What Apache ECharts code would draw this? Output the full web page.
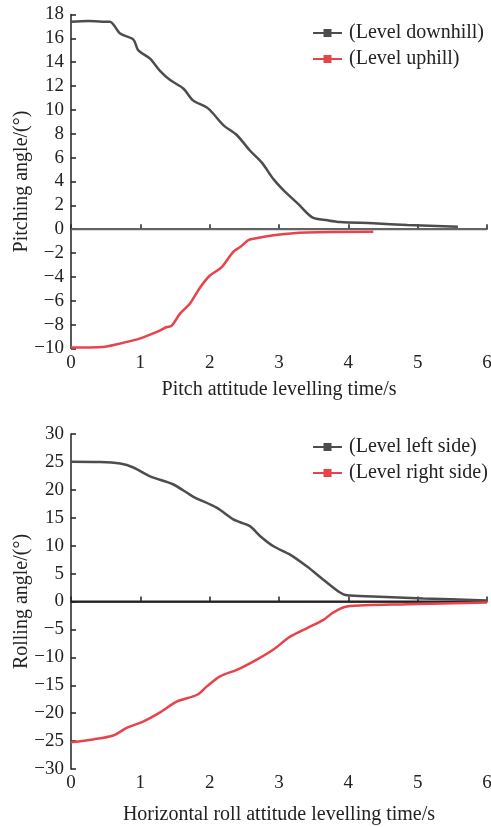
<!DOCTYPE html>
<html><head><meta charset="utf-8">
<script src="https://cdn.jsdelivr.net/npm/echarts@6/dist/echarts.min.js"></script>
<style>html,body{margin:0;padding:0;background:#fff}#c{width:491px;height:827px}</style>
</head><body><div id="c"></div>
<script>
// Top chart: pitch levelling
const pitchDownhill = [[0,17.4],[0.25,17.45],[0.45,17.4],[0.56,17.4],[0.71,16.4],[0.9,15.9],[0.97,15.0],[1.14,14.3],[1.28,13.3],[1.43,12.5],[1.62,11.8],[1.76,10.8],[1.96,10.2],[2.05,9.7],[2.2,8.7],[2.39,7.9],[2.58,6.6],[2.75,5.6],[2.92,4.2],[3.06,3.3],[3.28,2.1],[3.48,1.0],[3.7,0.75],[3.88,0.6],[4.36,0.5],[4.85,0.35],[5.58,0.2]];
const pitchUphill = [[0,-9.92],[0.46,-9.87],[0.66,-9.65],[1.0,-9.15],[1.24,-8.6],[1.38,-8.2],[1.45,-8.1],[1.57,-7.1],[1.72,-6.2],[1.86,-4.9],[2.0,-3.9],[2.17,-3.2],[2.34,-1.9],[2.44,-1.5],[2.56,-0.9],[2.63,-0.8],[2.92,-0.5],[3.4,-0.28],[4.36,-0.22]];
// Bottom chart: roll levelling
const rollLeft = [[0,25.05],[0.42,25.0],[0.71,24.7],[0.9,24.0],[1.14,22.4],[1.47,21.0],[1.76,18.8],[2.1,16.8],[2.34,14.7],[2.44,14.2],[2.58,13.5],[2.73,11.7],[2.92,9.9],[3.16,8.4],[3.4,6.3],[3.64,3.9],[3.88,1.6],[3.98,1.1],[4.36,0.9],[5.08,0.55],[6.0,0.2]];
const rollRight = [[0,-25.2],[0.32,-24.7],[0.61,-24.0],[0.81,-22.6],[1.04,-21.5],[1.28,-19.9],[1.53,-17.9],[1.82,-16.7],[1.96,-15.2],[2.15,-13.4],[2.4,-12.2],[2.68,-10.4],[2.92,-8.6],[3.16,-6.3],[3.4,-4.8],[3.64,-3.3],[3.78,-2.0],[3.98,-0.9],[4.85,-0.5],[6.0,-0.2]];
const zeroLine = [[0,0],[6,0]];
const names = ['(Level downhill)','(Level uphill)','(Level left side)','(Level right side)'];
const axisTitles = ['Pitch attitude levelling time/s','Pitching angle/(°)','Horizontal roll attitude levelling time/s','Rolling angle/(°)'];

const FONT = 'Liberation Serif';
const DARK = '#4d4d4d', RED = '#e8434b';
const chart = echarts.init(document.getElementById('c'));
const fmt = v => String(v).replace('-', '\u2212');
function xAxis(i, name, gap){
  return {type:'value', gridIndex:i, min:0, max:6, interval:1, name:name, nameLocation:'middle', nameGap:gap, nameMoveOverlap:false,
    nameTextStyle:{fontFamily:FONT,fontSize:20,color:'#222'},
    axisLine:{lineStyle:{color:'#222',width:1.5}}, axisTick:{inside:true,length:5,lineStyle:{color:'#222',width:1.5}},
    axisLabel:{fontFamily:FONT,fontSize:19,color:'#222',margin:5,formatter:fmt}, splitLine:{show:false}};
}
function yAxis(i, name, min, max, iv){
  return {type:'value', gridIndex:i, min:min, max:max, interval:iv, name:name, nameLocation:'middle', nameGap:39, nameMoveOverlap:false,
    nameTextStyle:{fontFamily:FONT,fontSize:20,color:'#222'},
    axisLine:{lineStyle:{color:'#222',width:1.5}}, axisTick:{inside:true,length:5,lineStyle:{color:'#222',width:1.5}},
    axisLabel:{fontFamily:FONT,fontSize:19,color:'#222',margin:7,formatter:fmt}, splitLine:{show:false}};
}
function line(name, data, color, xi, w){
  return {name:name, type:'line', xAxisIndex:xi, yAxisIndex:xi, data:data, smooth:0.3, symbol:'rect', symbolSize:5, showSymbol:false,
    itemStyle:{color:color}, lineStyle:{color:color,width:w||2.5}, silent:true, z:3};
}
chart.setOption({
  animation:false,
  grid:[{left:71,right:4,top:14.5,height:334,outerBoundsMode:'none',containLabel:false},
        {left:71,right:4,top:434,height:335,outerBoundsMode:'none',containLabel:false}],
  xAxis:[xAxis(0,axisTitles[0],31), xAxis(1,axisTitles[2],36)],
  yAxis:[yAxis(0,axisTitles[1],-10,18,2), yAxis(1,axisTitles[3],-30,30,5)],
  legend:[
    {data:[names[0],names[1]], orient:'vertical', left:312, top:23, itemWidth:29, itemHeight:10, itemGap:6, padding:0,
     textStyle:{fontFamily:FONT,fontSize:20,color:'#222',padding:[0,0,0,2]}},
    {data:[names[2],names[3]], orient:'vertical', left:312, top:437, itemWidth:29, itemHeight:10, itemGap:6, padding:0,
     textStyle:{fontFamily:FONT,fontSize:20,color:'#222',padding:[0,0,0,2]}}
  ],
  series:[
    {name:'zero1', type:'line', xAxisIndex:0, yAxisIndex:0, data:zeroLine, showSymbol:false, lineStyle:{color:'#666',width:2}, z:2, silent:true},
    line(names[0], pitchDownhill, DARK, 0),
    line(names[1], pitchUphill, RED, 0),
    {name:'zero2', type:'line', xAxisIndex:1, yAxisIndex:1, data:zeroLine, showSymbol:false, lineStyle:{color:'#222',width:2}, z:2, silent:true},
    line(names[2], rollLeft, DARK, 1),
    line(names[3], rollRight, RED, 1)
  ]
});
</script></body></html>
